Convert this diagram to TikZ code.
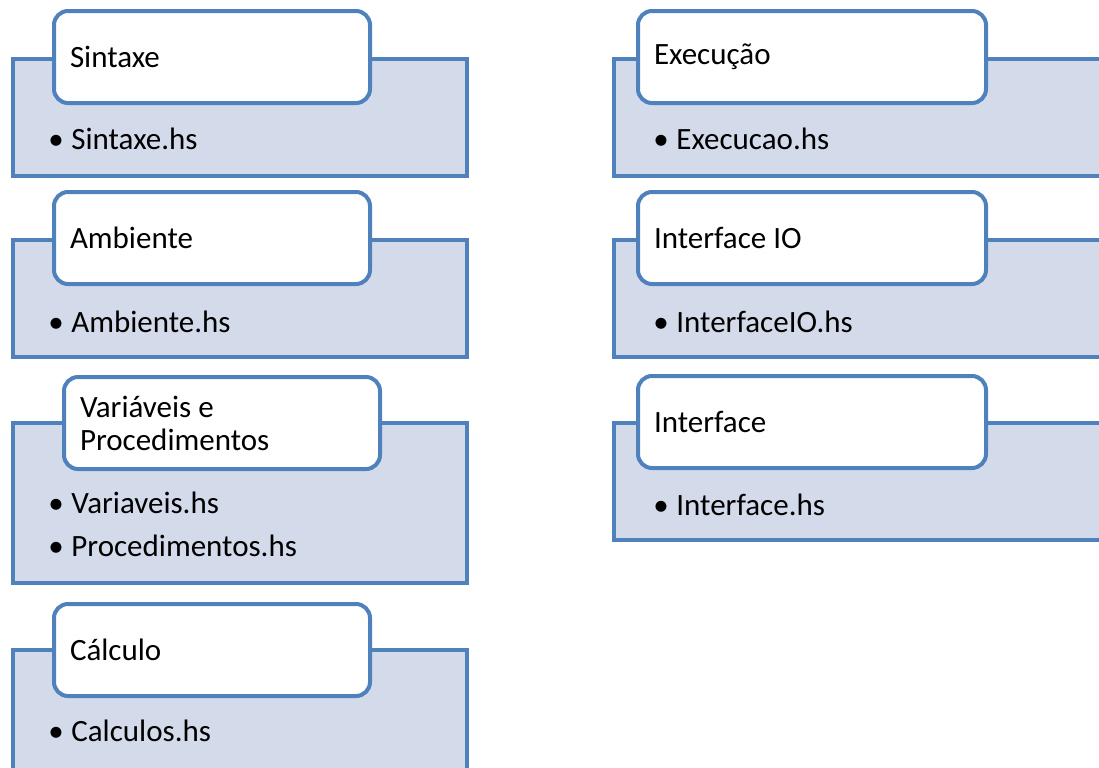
\documentclass[tikz,border=0pt]{standalone}
\usepackage{fontspec}
\setmainfont{Carlito}
\usetikzlibrary{positioning}
\definecolor{edgeblue}{RGB}{79,129,189}
\definecolor{panelblue}{RGB}{211,219,234}
\newcommand{\bul}{\makebox[11.5pt][l]{\textbullet}}

\begin{document}
\begin{tikzpicture}[x=0.5pt, y=-0.5pt,
    every node/.style={font=\fontsize{15.5}{16.5}\selectfont},
    panel/.style={draw=edgeblue, fill=panelblue, line width=2pt, anchor=north west,
                  inner sep=0pt, minimum width=227pt, minimum height=58.5pt},
    widepanel/.style={panel, minimum width=253pt},
    tab/.style={draw=edgeblue, fill=white, line width=2pt, rounded corners=7pt,
                anchor=north west, align=left, text width=142pt, inner xsep=8pt,
                minimum height=46pt,
                execute at begin node={\spaceskip=0pt\xspaceskip=0pt}},
    widetab/.style={tab, text width=158pt},
    items/.style={anchor=west, align=left, inner sep=0pt,
                  font=\fontsize{15.5}{21.5}\selectfont,
                  execute at begin node={\spaceskip=0pt\xspaceskip=0pt}}
]
\useasboundingbox (0,0) rectangle (1099,767);
\clip (0,0) rectangle (1099,767);

% left column
\node[panel] (sintaxe) at (11,57) {};
\node[tab] (sintaxe-tab) at (52,9) {Sintaxe};
\node[items] (sintaxe-list) at (48,139) {\bul Sintaxe.hs};

\node[panel] (ambiente) at (11,238) {};
\node[tab] (ambiente-tab) at (52,190) {Ambiente};
\node[items] (ambiente-list) at (48,322) {\bul Ambiente.hs};

\node[panel, minimum height=80pt] (varproc) at (11,421) {};
\node[tab] (varproc-tab) at (62,375) {Vari\'aveis e\\Procedimentos};
\node[items] (varproc-list) at (48,524.5) {\bul Variaveis.hs\\\bul Procedimentos.hs};

\node[panel, minimum height=80pt] (calculo) at (11,648) {};
\node[tab] (calculo-tab) at (52,602) {C\'alculo};
\node[items] (calculo-list) at (48,731) {\bul Calculos.hs};

% right column
\node[widepanel] (execucao) at (612,57) {};
\node[widetab] (execucao-tab) at (636,9) {Execução};
\node[items] (execucao-list) at (653,139) {\bul Execucao.hs};

\node[widepanel] (interfaceio) at (612,238) {};
\node[widetab] (interfaceio-tab) at (636,190) {Interface IO};
\node[items] (interfaceio-list) at (653,322) {\bul InterfaceIO.hs};

\node[widepanel] (interface) at (612,421) {};
\node[widetab] (interface-tab) at (636,374) {Interface};
\node[items] (interface-list) at (653,505) {\bul Interface.hs};
\end{tikzpicture}
\end{document}
